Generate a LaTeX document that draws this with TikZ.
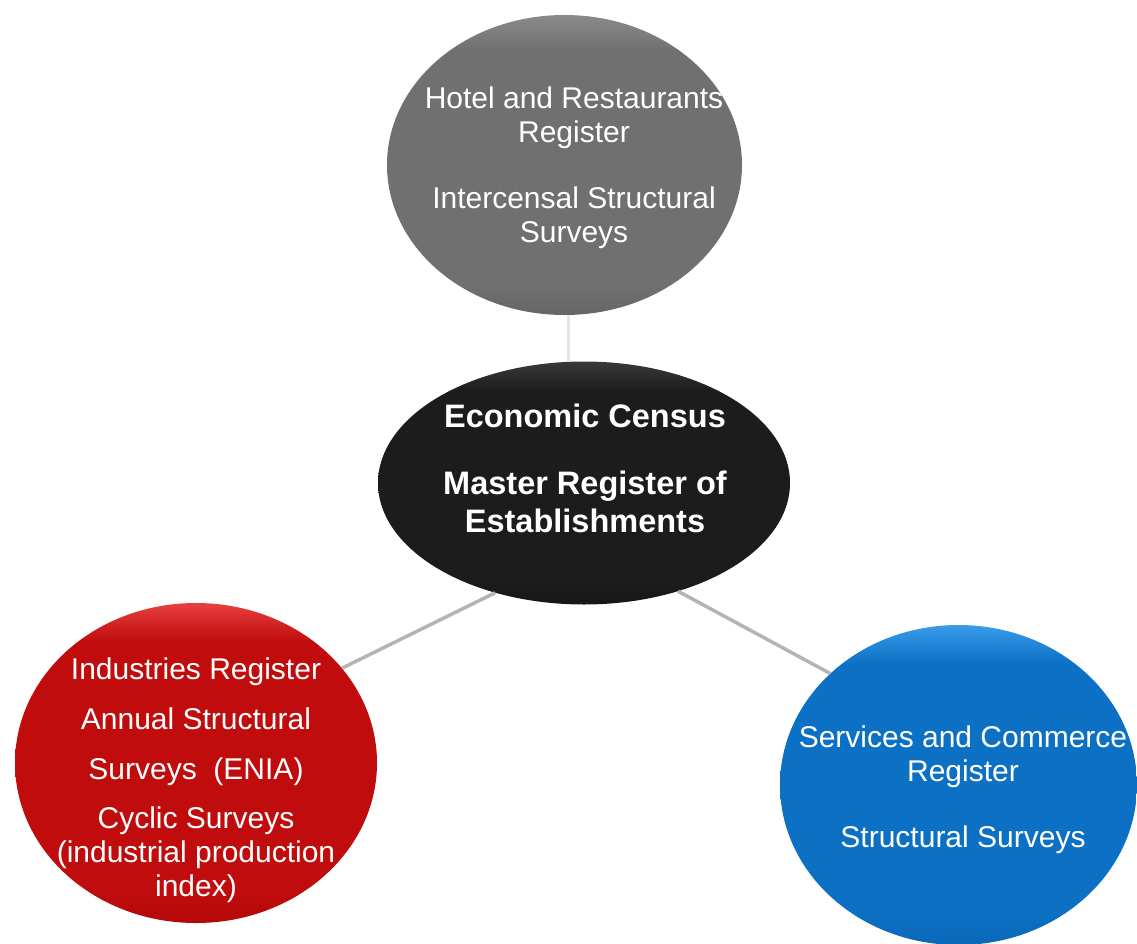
\documentclass[tikz,border=0pt]{standalone}
\usepackage{fontspec}
\setmainfont{Liberation Sans}
\usetikzlibrary{shapes.geometric}
\definecolor{grayTop}{HTML}{8A8A8A}
\definecolor{grayMid}{HTML}{707070}
\definecolor{grayBot}{HTML}{666666}
\definecolor{blkTop}{HTML}{3A3A3A}
\definecolor{blkMid}{HTML}{1C1C1C}
\definecolor{blkBot}{HTML}{161616}
\definecolor{redTop}{HTML}{E84040}
\definecolor{redMid}{HTML}{C00C0C}
\definecolor{redBot}{HTML}{B40808}
\definecolor{bluTop}{HTML}{3A9CEA}
\definecolor{bluMid}{HTML}{0C70C4}
\definecolor{bluBot}{HTML}{0A68B8}
\definecolor{linkGray}{HTML}{B4B4B4}
\definecolor{linkLight}{HTML}{E4E4E4}
\pgfdeclareverticalshading{grayShade}{100bp}{color(0bp)=(grayBot); color(25bp)=(grayBot); color(30bp)=(grayMid); color(69bp)=(grayMid); color(75bp)=(grayTop); color(100bp)=(grayTop)}
\pgfdeclareverticalshading{blkShade}{100bp}{color(0bp)=(blkBot); color(25bp)=(blkBot); color(30bp)=(blkMid); color(69bp)=(blkMid); color(75bp)=(blkTop); color(100bp)=(blkTop)}
\pgfdeclareverticalshading{redShade}{100bp}{color(0bp)=(redBot); color(25bp)=(redBot); color(30bp)=(redMid); color(69bp)=(redMid); color(75bp)=(redTop); color(100bp)=(redTop)}
\pgfdeclareverticalshading{bluShade}{100bp}{color(0bp)=(bluBot); color(25bp)=(bluBot); color(30bp)=(bluMid); color(69bp)=(bluMid); color(75bp)=(bluTop); color(100bp)=(bluTop)}
\tikzset{
  blob/.style={ellipse, inner sep=0pt, draw=none},
  txt/.style={text=white, align=center, inner sep=0pt, font=\fontsize{30}{34}\selectfont},
  btxt/.style={text=white, align=center, inner sep=0pt, font=\fontsize{32.5}{37.5}\selectfont\bfseries},
  link/.style={draw=linkGray, line width=3.5pt},
  linktop/.style={draw=linkLight, line width=3.5pt}
}
\begin{document}
\begin{tikzpicture}[x=1pt, y=-1pt]
\useasboundingbox (0,0) rectangle (1137,944);
% ellipses
\node[blob, minimum width=355pt, minimum height=300pt, shade, shading=grayShade] (t) at (564.5,165) {};
\node[blob, minimum width=412pt, minimum height=243pt, shade, shading=blkShade] (c) at (584,483) {};
\node[blob, minimum width=362pt, minimum height=320pt, shade, shading=redShade] (r) at (196,763) {};
\node[blob, minimum width=357pt, minimum height=320pt, shade, shading=bluShade] (b) at (958.5,785) {};
% connectors
\draw[linktop] ([xshift=4pt]t.south) -- ([xshift=4pt]t.south |- c.north);
\draw[link] (r.33) -- (c.231);
\draw[link] (b.139) -- (c.311);
% texts
\node[txt] (tt) at (574,168) {Hotel and Restaurants\\Register\\[32pt] Intercensal Structural\\Surveys};
\node[btxt] (ct) at (585,468) {Economic Census\\[30pt]Master Register of\\Establishments};
\node[txt] (rt) at (196,780) {Industries Register\\[16pt]Annual Structural\\[16pt]Surveys\ \ (ENIA)\\[15pt]Cyclic Surveys\\(industrial production\\index)};
\node[txt] (bt) at (963,790) {Services and Commerce\\Register\\[32pt]Structural Surveys};
\end{tikzpicture}
\end{document}
